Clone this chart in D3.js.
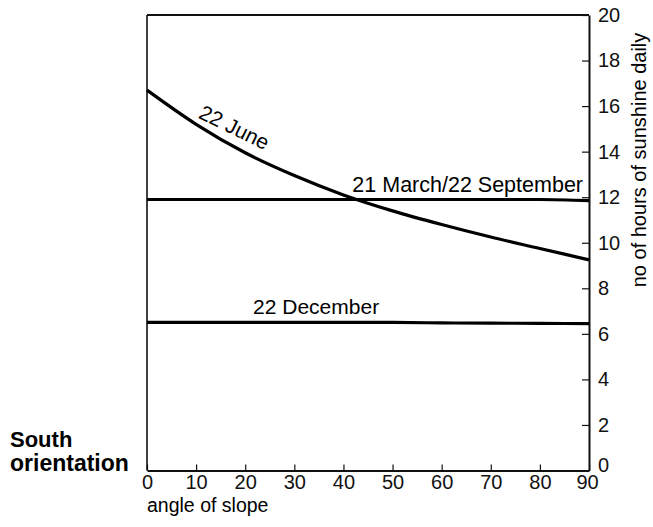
<!DOCTYPE html>
<html>
<head>
<meta charset="utf-8">
<script src="https://cdn.jsdelivr.net/npm/d3@7"></script>
<style>
  body { margin: 0; background: #fff; }
  svg { display: block; font-family: "Liberation Sans", Arial, sans-serif; }
  .axis text { font-size: 20px; fill: #111; }
  .axis line, .axis path { stroke: #111; }
</style>
</head>
<body>
<svg id="chart"></svg>
<script>
(function() {
    const width = 653;
    const height = 527;
    const margin = { top: 15, right: 64, bottom: 56.5, left: 147 };

    // --- DATA ---
    const slopeAngles = [0, 10, 20, 30, 40, 50, 60, 70, 80, 90];
    const juneHours = [16.7, 15.2, 13.95, 12.95, 12.1, 11.4, 10.8, 10.25, 9.75, 9.25];
    const equinoxHours = [11.9, 11.9, 11.9, 11.9, 11.9, 11.9, 11.9, 11.9, 11.9, 11.85];
    const decemberHours = [6.5, 6.5, 6.5, 6.5, 6.5, 6.5, 6.48, 6.47, 6.46, 6.45];
    const xTicks = [0, 10, 20, 30, 40, 50, 60, 70, 80, 90];
    const yTicks = [0, 2, 4, 6, 8, 10, 12, 14, 16, 18, 20];

    const svg = d3.select("#chart")
        .attr("width", width)
        .attr("height", height);

    const x = d3.scaleLinear().domain([0, 90]).range([margin.left, width - margin.right]);
    const y = d3.scaleLinear().domain([0, 20]).range([height - margin.bottom, margin.top]);

    // --- FRAME ---
    svg.append("line")
        .attr("x1", x(0)).attr("x2", x(90))
        .attr("y1", y(20)).attr("y2", y(20))
        .attr("stroke", "#111").attr("stroke-width", 2);
    svg.append("line")
        .attr("x1", x(0)).attr("x2", x(0))
        .attr("y1", y(20)).attr("y2", y(0))
        .attr("stroke", "#111").attr("stroke-width", 1.6);

    // --- AXES ---
    const xAxis = svg.append("g")
        .attr("class", "axis")
        .attr("transform", `translate(0,${y(0)})`)
        .call(d3.axisBottom(x).tickValues(xTicks).tickSizeInner(-6).tickSizeOuter(0).tickPadding(4));
    xAxis.select(".domain").attr("stroke-width", 2.2);
    xAxis.selectAll(".tick line").attr("stroke-width", 1.2);
    // keep the last x label clear of the right-axis "0"
    xAxis.selectAll(".tick text").filter(d => d === 90).attr("dx", "-2");

    const yAxis = svg.append("g")
        .attr("class", "axis")
        .attr("transform", `translate(${x(90)},0)`)
        .call(d3.axisRight(y).tickValues(yTicks).tickSizeInner(-7).tickSizeOuter(0).tickPadding(9));
    yAxis.select(".domain").attr("stroke-width", 2);
    yAxis.selectAll(".tick line").attr("stroke-width", 1.2);
    yAxis.selectAll(".tick text").filter(d => d === 0).attr("dy", "0.05em");

    // --- LINES ---
    const line = d3.line()
        .x((d, i) => x(slopeAngles[i]))
        .y(d => y(d))
        .curve(d3.curveMonotoneX);

    [juneHours, equinoxHours, decemberHours].forEach(series => {
        svg.append("path")
            .datum(series)
            .attr("d", line)
            .attr("fill", "none")
            .attr("stroke", "#000")
            .attr("stroke-width", 3.2);
    });

    // --- LABELS ---
    svg.append("text")
        .attr("transform", `translate(${x(10.3)},${y(15.5)}) rotate(26)`)
        .attr("font-size", 21)
        .text("22 June");

    svg.append("text")
        .attr("x", x(90) - 6)
        .attr("y", y(11.9) - 7)
        .attr("text-anchor", "end")
        .attr("font-size", 21.5)
        .text("21 March/22 September");

    svg.append("text")
        .attr("x", x(21.6))
        .attr("y", y(6.5) - 8)
        .attr("font-size", 21)
        .text("22 December");

    svg.append("text")
        .attr("x", x(0))
        .attr("y", 512)
        .attr("font-size", 19.5)
        .text("angle of slope");

    svg.append("text")
        .attr("transform", `translate(646,160) rotate(-90)`)
        .attr("text-anchor", "middle")
        .attr("font-size", 20)
        .text("no  of hours of sunshine daily");

    svg.append("text")
        .attr("x", 10)
        .attr("y", 447)
        .attr("font-size", 22)
        .attr("font-weight", "bold")
        .text("South");
    svg.append("text")
        .attr("x", 10)
        .attr("y", 471)
        .attr("font-size", 23)
        .attr("font-weight", "bold")
        .text("orientation");
})();
</script>
</body>
</html>
